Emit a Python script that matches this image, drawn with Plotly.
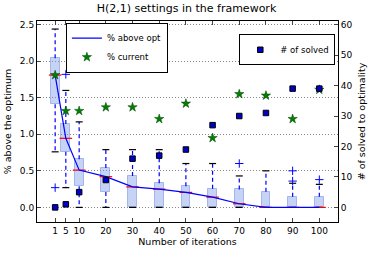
import plotly.graph_objects as go

iters = [1, 5, 10, 20, 30, 40, 50, 60, 70, 80, 90, 100]
q1 = [1.41, 0.76, 0.29, 0.21, 0, 0, 0, 0, 0, 0, 0, 0]
med = [1.81, 0.945, 0.51, 0.42, 0.28, 0.25, 0.205, 0.14, 0.05, 0, 0, 0]
q3 = [2.04, 1.14, 0.66, 0.54, 0.43, 0.33, 0.29, 0.255, 0.245, 0.215, 0.145, 0.145]
whisk_lo = [0.76, 0.27, 0, 0, 0, 0, 0, 0, 0, 0, 0, 0]
whisk_hi = [2.44, 1.60, 1.17, 0.79, 0.79, 0.79, 0.60, 0.60, 0.43, 0.50, 0.33, 0.315]
outlier_x = [1, 5, 70, 90, 90, 100]
outlier_y = [0.27, 1.82, 0.60, 0.36, 0.50, 0.38]
pct_current = [1.81, 1.32, 1.32, 1.37, 1.37, 1.21, 1.42, 0.95, 1.55, 1.53, 1.21, 1.61]
n_solved = [0, 1, 5, 9, 16, 17, 19, 27, 30, 31, 39, 39]

FONT = "DejaVu Sans"
fig = go.Figure()

# boxes
fig.add_trace(go.Bar(
    x=iters, y=[b - a for a, b in zip(q1, q3)], base=q1, width=3.3,
    marker=dict(color="rgba(120,150,230,0.42)", line=dict(color="rgba(120,150,230,0.6)", width=1)),
    showlegend=False, hoverinfo="skip"))

# whiskers
wx, wy = [], []
for x, a, b, lo, hi in zip(iters, q1, q3, whisk_lo, whisk_hi):
    wx += [x, x, None, x, x, None]
    wy += [b, hi, None, a, lo, None]
fig.add_trace(go.Scatter(x=wx, y=wy, mode="lines",
                         line=dict(color="blue", width=1.2, dash="4px,3px"),
                         showlegend=False, hoverinfo="skip"))
# caps
fig.add_trace(go.Scatter(x=iters + iters, y=whisk_lo + whisk_hi, mode="markers",
                         marker=dict(symbol="line-ew", size=5, line=dict(color="black", width=1.2)),
                         showlegend=False, hoverinfo="skip"))
# medians
fig.add_trace(go.Scatter(x=iters, y=med, mode="markers",
                         marker=dict(symbol="line-ew", size=9, line=dict(color="red", width=1.2)),
                         showlegend=False, hoverinfo="skip"))
# outliers
fig.add_trace(go.Scatter(x=outlier_x, y=outlier_y, mode="markers",
                         marker=dict(symbol="cross-thin", size=6, line=dict(color="blue", width=1)),
                         showlegend=False, hoverinfo="skip"))
# median line
fig.add_trace(go.Scatter(x=iters, y=med, mode="lines", name="% above opt",
                         line=dict(color="blue", width=1.2), legend="legend"))
# stars
fig.add_trace(go.Scatter(x=iters, y=pct_current, mode="markers", name="% current",
                         marker=dict(symbol="star", size=7, color="green",
                                     line=dict(color="#004000", width=0.5)),
                         legend="legend"))
# solved squares
fig.add_trace(go.Scatter(x=iters, y=n_solved, mode="markers", name="# of solved",
                         yaxis="y2",
                         marker=dict(symbol="square", size=5.5, color="#0000cc",
                                     line=dict(color="black", width=1)),
                         legend="legend2"))

fig.update_layout(
    width=373, height=254,
    margin=dict(l=37, r=35, t=21, b=32, autoexpand=False),
    paper_bgcolor="white", plot_bgcolor="white",
    font=dict(family=FONT, size=9, color="black"),
    title=dict(text="H(2,1) settings in the framework", x=0.5, xanchor="center",
               y=0.985, yanchor="top", font=dict(size=11), automargin=False),
    xaxis=dict(range=[-5.8, 107], tickvals=iters, ticks="inside", ticklen=4,
               showline=True, linecolor="black", linewidth=1, mirror="ticks",
               showgrid=False, zeroline=False, automargin=False,
               title=dict(text="Number of iterations", font=dict(size=9.5), standoff=2)),
    yaxis=dict(range=[-0.2, 2.55], tickvals=[0, 0.5, 1.0, 1.5, 2.0, 2.5],
               ticktext=["0.0", "0.5", "1.0", "1.5", "2.0", "2.5"],
               ticks="inside", ticklen=4, showline=True, linecolor="black", linewidth=1,
               mirror=True, showgrid=True, gridcolor="#888", griddash="1px,2px", gridwidth=1,
               zeroline=False, automargin=False,
               title=dict(text="% above the optimum", font=dict(size=9.5), standoff=6)),
    yaxis2=dict(range=[-4.8, 61.2], tickvals=[0, 10, 20, 30, 40, 50, 60],
                overlaying="y", side="right", ticks="inside", ticklen=4,
                showline=True, linecolor="black", linewidth=1, showgrid=False, zeroline=False,
                automargin=False,
                title=dict(text="# of solved to optimality", font=dict(size=9.5), standoff=6)),
    legend=dict(x=0.096, y=0.992, xanchor="left", yanchor="top",
                bordercolor="black", borderwidth=1, bgcolor="white",
                font=dict(size=8.5), tracegroupgap=0, itemwidth=30),
    legend2=dict(x=0.991, y=0.934, xanchor="right", yanchor="top",
                 bordercolor="black", borderwidth=1, bgcolor="white",
                 font=dict(size=8.5), itemwidth=30),
    bargap=0,
)

fig.write_html("out.html", config={"displayModeBar": False},
               post_script="document.body.style.margin='0px';")
